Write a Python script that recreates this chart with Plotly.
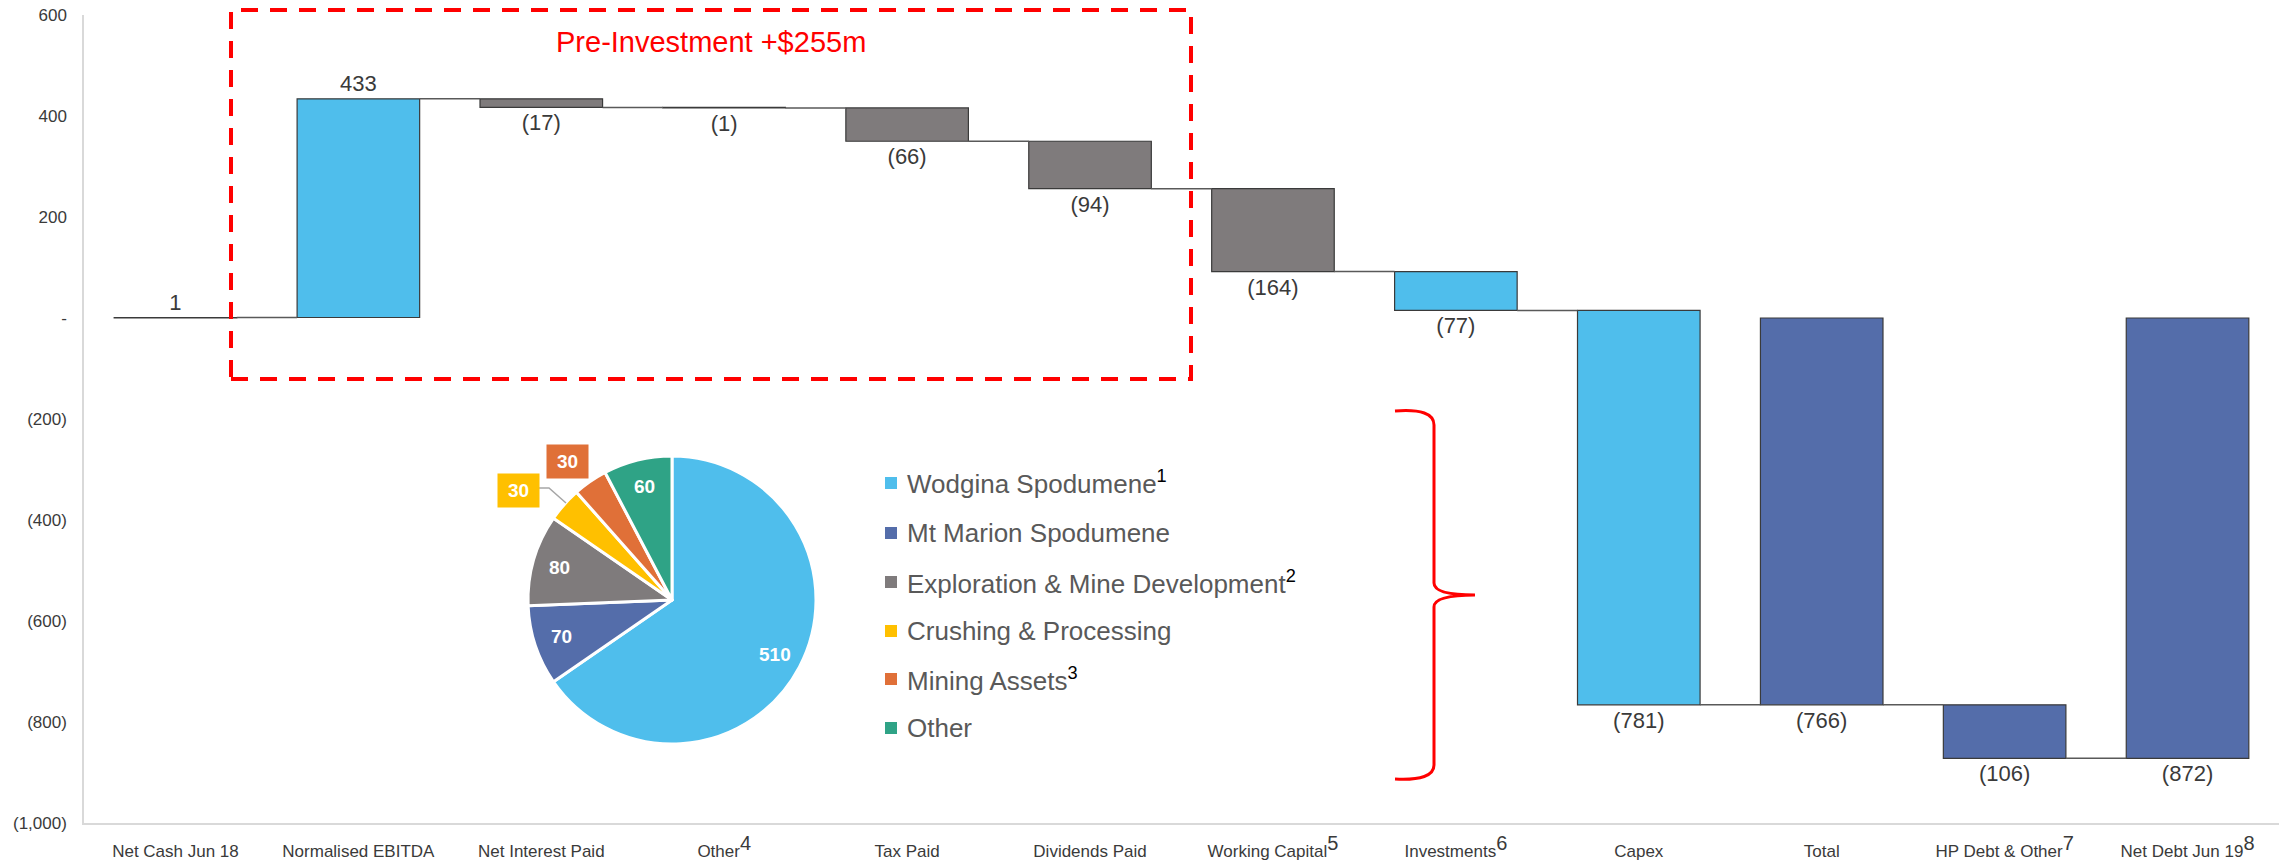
import math
import plotly.graph_objects as go

# ---------------- data ----------------
categories = ["Net Cash Jun 18", "Normalised EBITDA", "Net Interest Paid", "Other",
              "Tax Paid", "Dividends Paid", "Working Capital", "Investments",
              "Capex", "Total", "HP Debt & Other", "Net Debt Jun 19"]
footnotes = ["", "", "", "4", "", "", "5", "6", "", "", "7", "8"]
measures = ["absolute", "relative", "relative", "relative", "relative", "relative",
            "relative", "relative", "relative", "total", "relative", "total"]
values = [1, 433, -17, -1, -66, -94, -164, -77, -781, None, -106, None]

y_tickvals = [600, 400, 200, 0, -200, -400, -600, -800, -1000]
y_ticktext = ["600", "400", "200", "-", "(200)", "(400)", "(600)", "(800)", "(1,000)"]

pie_labels = ["Wodgina Spodumene", "Mt Marion Spodumene", "Exploration & Mine Development",
              "Crushing & Processing", "Mining Assets", "Other"]
pie_values = [510, 70, 80, 30, 30, 60]
pie_notes = ["1", "", "2", "", "3", ""]

title_text = "Pre-Investment +$255m"

# ---------------- style ----------------
LB = "#4FBEEC"
DB = "#546DAA"
GR = "#7F7B7C"
bar_colors = [GR, LB, GR, GR, GR, GR, GR, LB, LB, DB, DB, DB]
pie_colors = [LB, DB, GR, "#FFC000", "#E07038", "#2FA386"]
FONT = "Liberation Sans, Arial, sans-serif"
TXT = "#3A3A3A"

W, H = 2287, 862
ML, MR, MT, MB = 84, 8, 15, 39
PW, PH = W - ML - MR, H - MT - MB


def px(x):
    return (x - ML) / PW


def py(y):
    return 1 - (y - MT) / PH


# ---------------- waterfall geometry from data ----------------
bases, heights = [], []
level = 0
for v, m in zip(values, measures):
    if m == "absolute":
        bases.append(0); heights.append(v); level = v
    elif m == "relative":
        bases.append(level); heights.append(v); level += v
    else:
        bases.append(0); heights.append(level)
ends = [b + h for b, h in zip(bases, heights)]


def fmt(v):
    return f"({abs(v):,})" if v < 0 else f"{v:,}"


labels_txt = [fmt(h) for h in heights]

bar_w = 0.67
xs = list(range(len(categories)))

fig = go.Figure()

# connectors
cx, cy = [], []
for i in range(len(categories) - 1):
    cx += [i + bar_w / 2, i + 1 - bar_w / 2, None]
    cy += [ends[i], ends[i], None]
fig.add_trace(go.Scatter(x=cx, y=cy, mode="lines", line=dict(color="#595959", width=1.5),
                         hoverinfo="skip", showlegend=False))

fig.add_trace(go.Bar(
    x=xs, y=heights, base=bases, width=bar_w,
    marker=dict(color=bar_colors, line=dict(color="#3A3A3A", width=1.2)),
    text=labels_txt, textposition="outside", textangle=0, constraintext="none",
    cliponaxis=False,
    outsidetextfont=dict(family=FONT, size=22, color=TXT),
    showlegend=False,
))

tick_labels = []
for c, n in zip(categories, footnotes):
    if n:
        tick_labels.append(f"{c}<sup><span style='font-size:20px'>{n}</span></sup>")
    else:
        tick_labels.append(c)

# ---------------- pie ----------------
pie_cx, pie_cy, pie_r = 672, 600, 144
fig.add_trace(go.Pie(
    labels=pie_labels, values=pie_values, sort=False, direction="clockwise", rotation=0,
    marker=dict(colors=pie_colors, line=dict(color="white", width=3)),
    textinfo="none",
    domain=dict(x=[px(pie_cx - pie_r), px(pie_cx + pie_r)],
                y=[py(pie_cy + pie_r), py(pie_cy - pie_r)]),
    showlegend=False, hoverinfo="label+value",
))

annotations = []
shapes = []

# slice value labels placed along each slice's mid-angle (computed from the values)
total_pie = sum(pie_values)
cum = 0
for i, v in enumerate(pie_values):
    mid = (cum + v / 2) / total_pie * 2 * math.pi
    cum += v
    if v < 50:
        continue
    lx = pie_cx + 0.81 * pie_r * math.sin(mid)
    ly = pie_cy - 0.81 * pie_r * math.cos(mid)
    annotations.append(dict(x=px(lx), y=py(ly), xref="paper", yref="paper", showarrow=False,
                            text=f"<b>{v}</b>", font=dict(family=FONT, size=19, color="white"),
                            xanchor="center", yanchor="middle"))

# boxed outside labels for the small slices
box_pos = {3: (518.5, 490), 4: (567.5, 461.5)}
for i, (bx, by) in box_pos.items():
    annotations.append(dict(
        x=px(bx), y=py(by), xref="paper", yref="paper", showarrow=False,
        text=f"<b>{pie_values[i]}</b>", font=dict(family=FONT, size=19, color="white"),
        bgcolor=pie_colors[i], width=41, height=33, borderpad=0,
        xanchor="center", yanchor="middle"))
# leader line
shapes.append(dict(type="path", xref="paper", yref="paper",
                   path=f"M{px(539)},{py(488)} L{px(549)},{py(488)} L{px(566)},{py(503)}",
                   line=dict(color="#A6A6A6", width=1.5)))

# manual legend
leg_y = [483, 533, 582, 631, 679, 728]
for lab, note, col, ly in zip(pie_labels, pie_notes, pie_colors, leg_y):
    shapes.append(dict(type="rect", xref="paper", yref="paper",
                       x0=px(885), x1=px(897), y0=py(ly + 6), y1=py(ly - 6),
                       fillcolor=col, line=dict(width=0)))
    t = lab
    if note:
        t += f"<sup><span style='color:#000000'>{note}</span></sup>"
    annotations.append(dict(x=px(905), y=py(ly), xref="paper", yref="paper",
                            showarrow=False, text=t, xanchor="left", yanchor="middle",
                            font=dict(family=FONT, size=26, color="#595959")))

# dashed box + title
shapes.append(dict(type="rect", xref="paper", yref="paper",
                   x0=px(231), x1=px(1191), y0=py(379), y1=py(10),
                   line=dict(color="#FF0000", width=4, dash="17px,12px")))
annotations.append(dict(x=px(711), y=py(42), xref="paper", yref="paper", showarrow=False,
                        text=title_text, font=dict(family=FONT, size=29, color="#FF0000"),
                        xanchor="center", yanchor="middle"))

# curly brace
pts = f"M{px(1395)},{py(411)} Q{px(1434)},{py(408)} {px(1434)},{py(425)} " \
      f"L{px(1434)},{py(583)} Q{px(1434)},{py(595)} {px(1475)},{py(595)} " \
      f"Q{px(1434)},{py(595)} {px(1434)},{py(607)} L{px(1434)},{py(765)} " \
      f"Q{px(1434)},{py(781)} {px(1395)},{py(779)}"
shapes.append(dict(type="path", xref="paper", yref="paper", path=pts,
                   line=dict(color="#FF0000", width=3)))

fig.update_layout(
    width=W, height=H, margin=dict(l=ML, r=MR, t=MT, b=MB, autoexpand=False),
    plot_bgcolor="white", paper_bgcolor="white",
    font=dict(family=FONT, color=TXT),
    xaxis=dict(range=[-0.5, len(categories) - 0.5], tickvals=xs, ticktext=tick_labels,
               showgrid=False, zeroline=False, showline=True, linecolor="#D9D9D9",
               linewidth=1.5, ticks="", ticklabelstandoff=12, automargin=False,
               tickfont=dict(family=FONT, size=17, color=TXT)),
    yaxis=dict(range=[-1000, 600], tickvals=y_tickvals, ticktext=y_ticktext,
               showgrid=False, zeroline=False, showline=True, linecolor="#D9D9D9",
               linewidth=1.5, ticks="", ticklabelstandoff=12, automargin=False,
               tickfont=dict(family=FONT, size=17, color=TXT)),
    annotations=annotations, shapes=shapes, bargap=0.33, showlegend=False,
)

fig.write_html("out.html", config={"displayModeBar": False},
               post_script="document.body.style.margin='0px';document.body.style.overflow='hidden';")
